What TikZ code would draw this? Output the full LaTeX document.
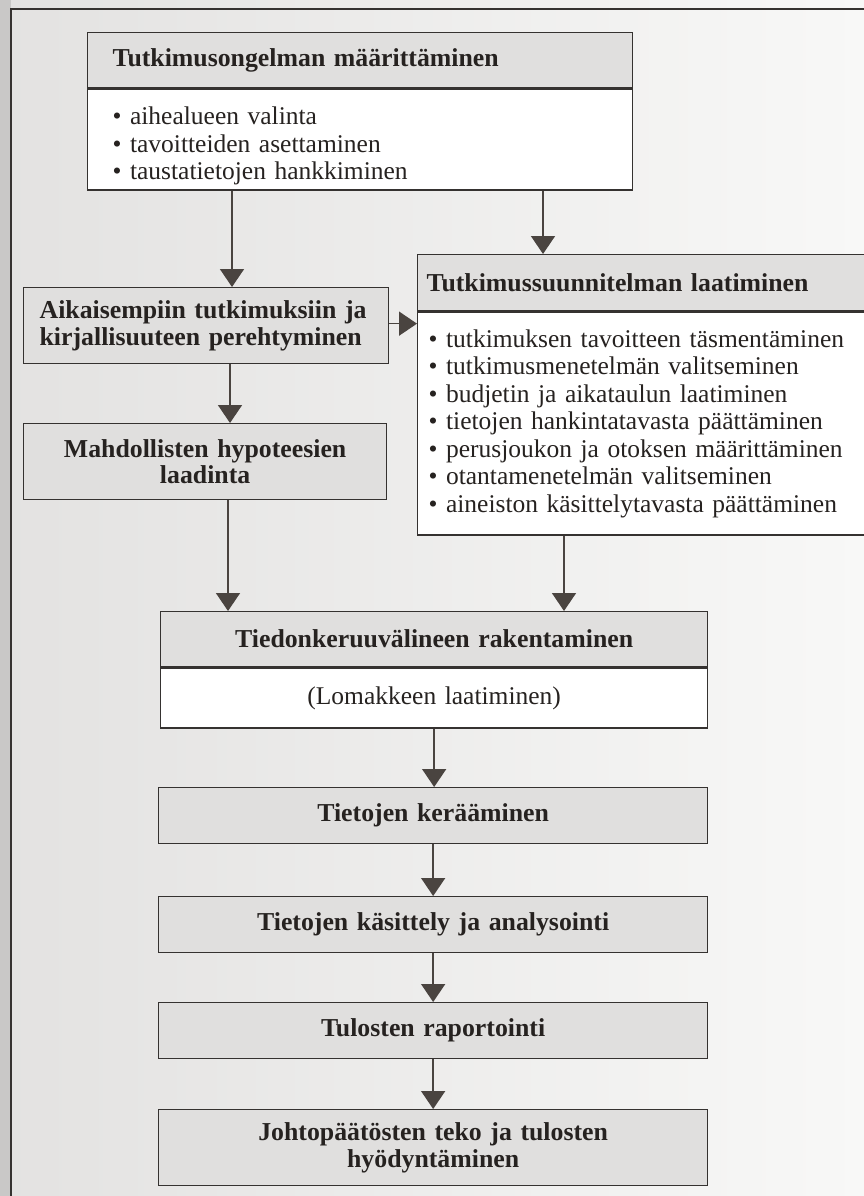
\documentclass[tikz,border=0pt]{standalone}
\usepackage{fontspec}
\setmainfont{Liberation Serif}
\usepackage{tikz}
\usetikzlibrary{arrows.meta}

\definecolor{pageleft}{HTML}{E3E2E1}
\definecolor{pageright}{HTML}{F8F8F7}
\definecolor{edgegray}{HTML}{C9C8C7}
\definecolor{headgray}{HTML}{E0DFDE}
\definecolor{framegray}{HTML}{353230}
\definecolor{arrowgray}{HTML}{4A4440}
\definecolor{inkdark}{HTML}{262220}

\newcommand\bodysize{\fontsize{25.5}{27.5}\selectfont}
\newcommand\headsize{\fontsize{25.8}{26.5}\selectfont\bfseries}

\begin{document}
\begin{tikzpicture}[x=1pt, y=-1pt,
    box/.style={draw=framegray, line width=1.3pt, rectangle, anchor=north west,
      inner ysep=0pt, text=inkdark},
    headbox/.style={box, fill=headgray, font=\headsize},
    bodybox/.style={box, fill=white, font=\bodysize},
    arrowline/.style={draw=arrowgray, line width=1.6pt,
      -{Triangle[width=24pt,length=18pt]}}]
  \useasboundingbox (0,0) rectangle (864,1196);
  \clip (0,0) rectangle (864,1196);

  % page
  \shade[left color=pageleft, right color=pageright] (0,0) rectangle (864,1196);
  \fill[edgegray] (0,0) rectangle (11,1196);
  \draw[framegray, line width=1.8pt] (11,1196) -- (11,9) -- (864,9);

  % upper part
  \node[headbox, inner xsep=25pt, text width=495pt, minimum height=55pt, align=left]
    (b1head) at (87,32) {Tutkimusongelman määrittäminen};
  \node[bodybox, inner xsep=25pt, text width=495pt, minimum height=101pt, align=left]
    (b1body) at (b1head.south west)
    {\mbox{}\\[4pt]
     \textbullet\ aihealueen valinta\\
     \textbullet\ tavoitteiden asettaminen\\
     \textbullet\ taustatietojen hankkiminen};

  \node[headbox, inner xsep=16pt, text width=333pt, minimum height=76pt, align=left]
    (b2) at (23,287) {Aikaisempiin tutkimuksiin ja\\kirjallisuuteen perehtyminen};
  \node[headbox, inner xsep=10pt, text width=343pt, minimum height=76pt, align=center]
    (b4) at (23,423) {Mahdollisten hypoteesien\\laadinta};

  \node[headbox, inner xsep=9pt, text width=442pt, minimum height=56pt, align=left]
    (b3head) at (417,254) {Tutkimussuunnitelman laatiminen};
  \node[bodybox, inner xsep=11pt, text width=438pt, minimum height=223pt, align=left]
    (b3body) at (b3head.south west)
    {\textbullet\ tutkimuksen tavoitteen täsmentäminen\\
     \textbullet\ tutkimusmenetelmän valitseminen\\
     \textbullet\ budjetin ja aikataulun laatiminen\\
     \textbullet\ tietojen hankintatavasta päättäminen\\
     \textbullet\ perusjoukon ja otoksen määrittäminen\\
     \textbullet\ otantamenetelmän valitseminen\\
     \textbullet\ aineiston käsittelytavasta päättäminen};

  % lower part
  \node[headbox, inner xsep=10pt, text width=527pt, minimum height=55pt, align=center]
    (b5head) at (160,611) {Tiedonkeruuvälineen rakentaminen};
  \node[bodybox, inner xsep=10pt, text width=527pt, minimum height=60pt, align=center]
    (b5body) at (b5head.south west) {(Lomakkeen laatiminen)};
  \node[headbox, inner xsep=10pt, text width=529pt, minimum height=56pt, align=center]
    (b6) at (158,787) {Tietojen kerääminen};
  \node[headbox, inner xsep=10pt, text width=529pt, minimum height=56pt, align=center]
    (b7) at (158,896) {Tietojen käsittely ja analysointi};
  \node[headbox, inner xsep=10pt, text width=529pt, minimum height=56pt, align=center]
    (b8) at (158,1002) {Tulosten raportointi};
  \node[headbox, inner xsep=10pt, text width=529pt, minimum height=76pt, align=center]
    (b9) at (158,1109) {Johtopäätösten teko ja tulosten\\hyödyntäminen};

  % arrows
  \draw[arrowline] ([xshift=145pt]b1body.south west) coordinate (a1)
    -- (a1 |- b2.north);
  \draw[arrowline] ([xshift=456pt]b1body.south west) coordinate (a2)
    -- (a2 |- b3head.north);
  \draw[arrowline] ([yshift=2pt]b2.east) -- ([yshift=2pt]b2.east -| b3body.west);
  \draw[arrowline] ([xshift=207pt]b2.south west) coordinate (a3)
    -- (a3 |- b4.north);
  \draw[arrowline] ([xshift=205pt]b4.south west) coordinate (a4)
    -- (a4 |- b5head.north);
  \draw[arrowline] ([xshift=147pt]b3body.south west) coordinate (a5)
    -- (a5 |- b5head.north);
  \draw[arrowline] (b5body.south) -- (b5body.south |- b6.north);
  \draw[arrowline] (b6.south) -- (b7.north);
  \draw[arrowline] (b7.south) -- (b8.north);
  \draw[arrowline] (b8.south) -- (b9.north);
\end{tikzpicture}
\end{document}
